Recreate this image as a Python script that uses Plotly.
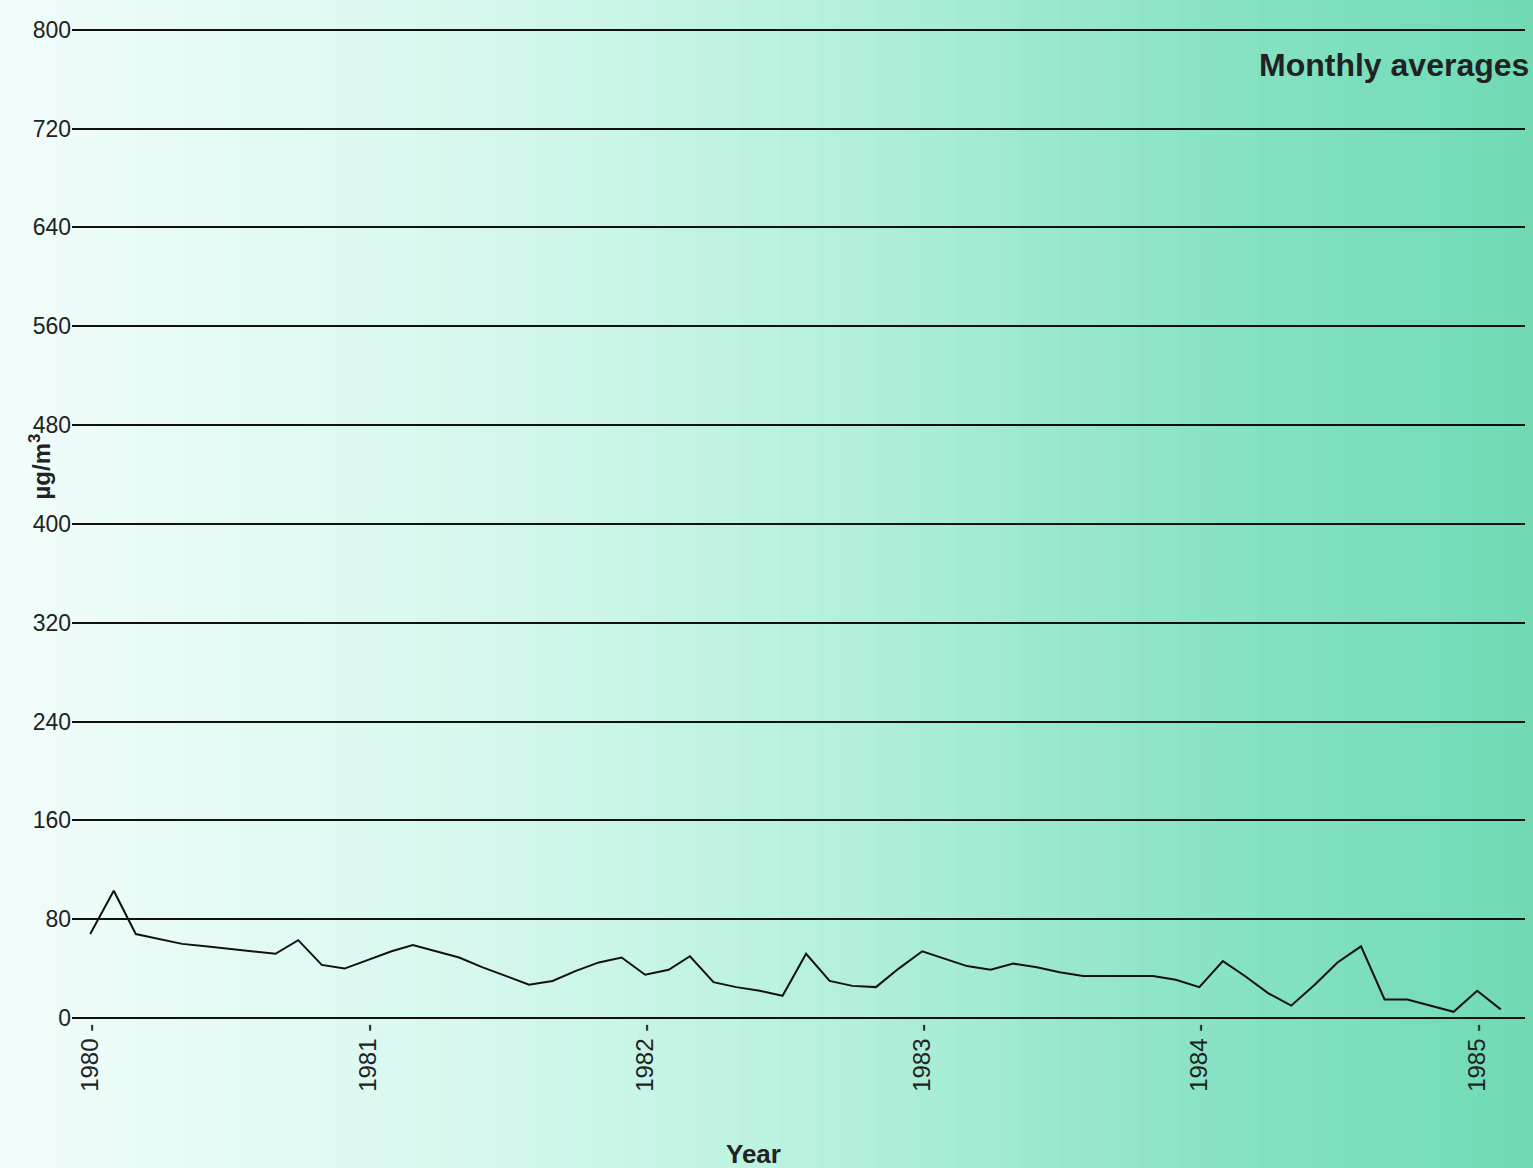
import plotly.graph_objects as go
import pandas as pd

# Monthly averages, Jan 1980 .. Feb 1985 (µg/m3)
start_month = "1980-01-01"
values = [68, 103, 68, 64, 60, 58, 56, 54, 52, 63, 43, 40,
          47, 54, 59, 54, 49, 41, 34, 27, 30, 38, 45, 49,
          35, 39, 50, 29, 25, 22, 18, 52, 30, 26, 25, 40,
          54, 48, 42, 39, 44, 41, 37, 34, 34, 34, 34, 31,
          25, 46, 34, 20, 10, 27, 45, 58, 15, 15, 10, 5,
          22, 7]
months = pd.date_range(start_month, periods=len(values), freq="MS")

y_ticks = [0, 80, 160, 240, 320, 400, 480, 560, 640, 720, 800]
x_tick_years = ["1980", "1981", "1982", "1983", "1984", "1985"]
x_tick_text = [y + " -" for y in x_tick_years]

fig = go.Figure()
fig.add_trace(go.Scatter(x=months, y=values, mode="lines",
                         line=dict(color="#111111", width=2), showlegend=False))

# background gradient (left pale to right mint green)
stops = [(0.0, (242, 253, 251)), (0.3, (214, 248, 238)), (0.5, (185, 241, 222)),
         (0.65, (156, 233, 207)), (0.8, (130, 225, 193)), (1.0, (108, 216, 178))]
n = 80
shapes = []
for i in range(n):
    t = (i + 0.5) / n
    for j in range(len(stops) - 1):
        if stops[j][0] <= t <= stops[j + 1][0]:
            a, ca = stops[j]
            b, cb = stops[j + 1]
            f = (t - a) / (b - a)
            c = tuple(int(round(ca[k] + (cb[k] - ca[k]) * f)) for k in range(3))
            break
    x0 = -0.05 + 1.1 * i / n
    x1 = -0.05 + 1.1 * (i + 1) / n + 0.002
    shapes.append(dict(type="rect", xref="paper", yref="paper", x0=x0, x1=x1,
                       y0=-0.2, y1=1.1, fillcolor="rgb(%d,%d,%d)" % c,
                       line=dict(width=0), layer="below"))

fig.update_layout(
    width=1533, height=1168,
    margin=dict(l=72, r=8, t=26, b=150),
    paper_bgcolor="#bdf2e0", plot_bgcolor="rgba(0,0,0,0)",
    shapes=shapes,
    font=dict(family="Liberation Sans, Arial, sans-serif", color="#222222"),
    xaxis=dict(
        type="date",
        range=["1979-12-08", "1985-03-05"],
        tickvals=[y + "-01-01" for y in x_tick_years],
        ticktext=x_tick_text,
        tickangle=-90,
        tickfont=dict(size=24, color="#222222"),
        showgrid=False, zeroline=False, showline=False, ticks="",
    ),
    yaxis=dict(
        range=[0, 803],
        tickvals=y_ticks,
        ticktext=[str(v) for v in y_ticks],
        tickfont=dict(size=23, color="#222222"),
        showgrid=True, gridcolor="#111111", gridwidth=2,
        zeroline=True, zerolinecolor="#111111", zerolinewidth=2,
        ticks="", showline=False,
    ),
    annotations=[
        dict(text="<b>Monthly averages</b>", xref="paper", yref="paper",
             x=1.004, y=0.961, xanchor="right", yanchor="middle",
             showarrow=False, font=dict(size=32, color="#222222")),
        dict(text="<b>Year</b>", xref="paper", yref="paper",
             x=0.469, y=-0.137, xanchor="center", yanchor="middle",
             showarrow=False, font=dict(size=26, color="#222222")),
        dict(text="<b>µg/m<sup>3</sup></b>", xref="paper", yref="paper",
             x=-0.022, y=0.556, xanchor="center", yanchor="middle", textangle=-90,
             showarrow=False, font=dict(size=24, color="#222222")),
    ],
)

fig.write_html("out.html", config={"displayModeBar": False},
               post_script="document.body.style.margin='0px';document.body.style.overflow='hidden';")
